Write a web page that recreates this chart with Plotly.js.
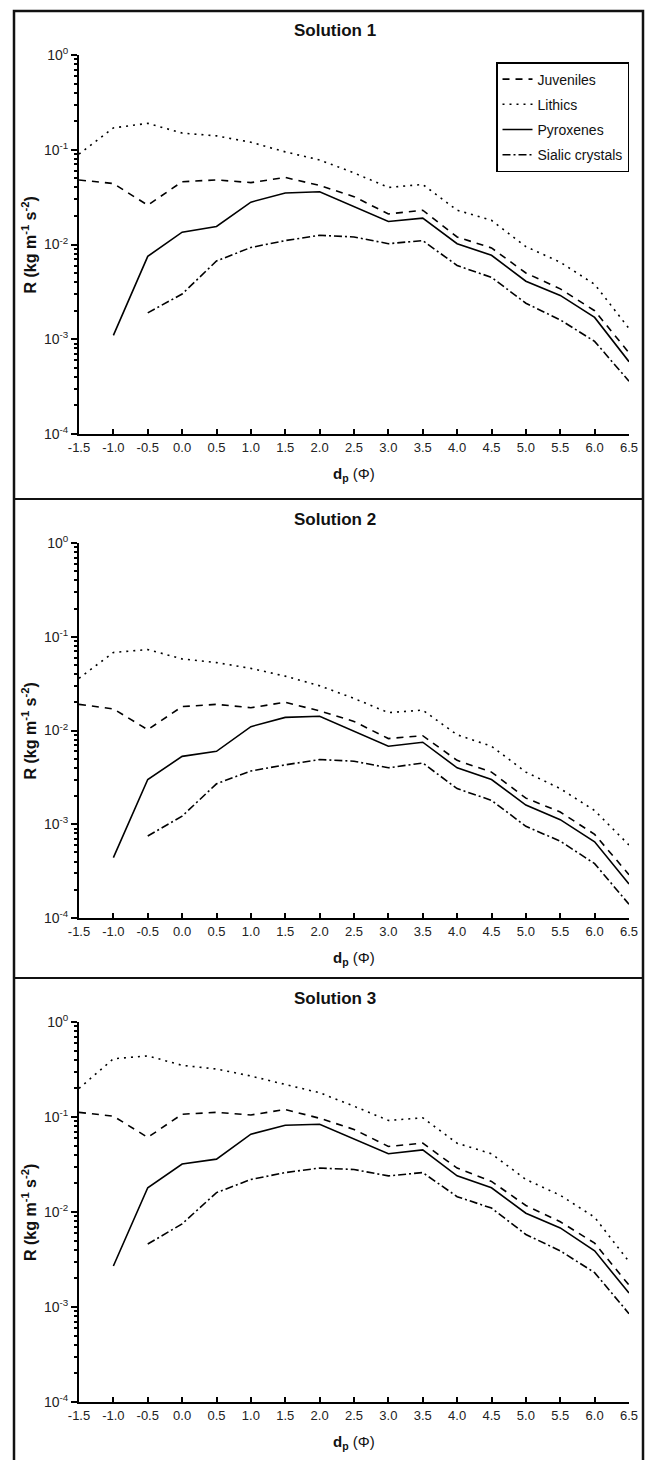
<!DOCTYPE html>
<html>
<head>
<meta charset="utf-8">
<script src="https://cdn.plot.ly/plotly-3.0.1.min.js"></script>
<style>html,body{margin:0;padding:0;background:#fff;}#chart{width:650px;height:1460px;}</style>
</head>
<body>
<div id="chart"></div>
<script>
// ---- data ----
const PHI = [-1.5,-1.0,-0.5,0.0,0.5,1.0,1.5,2.0,2.5,3.0,3.5,4.0,4.5,5.0,5.5,6.0,6.5];
const PHI_LABELS = ['-1.5','-1.0','-0.5','0.0','0.5','1.0','1.5','2.0','2.5','3.0','3.5','4.0','4.5','5.0','5.5','6.0','6.5'];
const SERIES = ['Juveniles','Lithics','Pyroxenes','Sialic crystals'];
const PANEL_TITLES = ['Solution 1','Solution 2','Solution 3'];
const Y_TICKVALS = [1e-4,1e-3,1e-2,1e-1,1];
const Y_TICKTEXT = ['10<sup>-4</sup>','10<sup>-3</sup>','10<sup>-2</sup>','10<sup>-1</sup>','10<sup>0</sup>'];

// Solution 1
const s1_juveniles = [0.048,0.044,0.026,0.046,0.048,0.045,0.051,0.042,0.032,0.021,0.023,0.012,0.0092,0.005,0.0034,0.002,0.00072];
const s1_lithics   = [0.09,0.17,0.19,0.15,0.14,0.12,0.095,0.078,0.057,0.04,0.043,0.023,0.018,0.0095,0.0065,0.0038,0.0013];
const s1_pyroxenes = [null,0.0011,0.0075,0.0135,0.0155,0.028,0.035,0.036,0.025,0.0175,0.019,0.0102,0.0077,0.0041,0.0029,0.0017,0.00058];
const s1_sialic    = [null,null,0.0019,0.003,0.0067,0.0093,0.011,0.0125,0.012,0.0102,0.011,0.006,0.0045,0.0024,0.0016,0.00095,0.00036];
// Solution 2
const s2_juveniles = [0.019,0.017,0.0102,0.018,0.019,0.0175,0.02,0.0162,0.0125,0.0082,0.0088,0.0048,0.0036,0.0019,0.00135,0.00078,0.00029];
const s2_lithics   = [0.036,0.068,0.073,0.058,0.053,0.046,0.038,0.03,0.022,0.0155,0.0165,0.009,0.0068,0.0036,0.0024,0.0014,0.0006];
const s2_pyroxenes = [null,0.00044,0.003,0.0053,0.006,0.011,0.0138,0.0142,0.0098,0.0068,0.0075,0.004,0.003,0.0016,0.00112,0.00065,0.00023];
const s2_sialic    = [null,null,0.00075,0.00122,0.0027,0.0037,0.0043,0.0049,0.0047,0.004,0.0045,0.0024,0.0018,0.00095,0.00066,0.00038,0.00014];
// Solution 3
const s3_juveniles = [0.112,0.102,0.061,0.107,0.112,0.105,0.12,0.097,0.074,0.049,0.053,0.029,0.021,0.0117,0.0079,0.0047,0.0017];
const s3_lithics   = [0.2,0.41,0.44,0.35,0.32,0.27,0.22,0.18,0.13,0.092,0.098,0.053,0.041,0.022,0.015,0.0088,0.003];
const s3_pyroxenes = [null,0.0027,0.018,0.032,0.036,0.066,0.082,0.084,0.059,0.041,0.045,0.024,0.018,0.0097,0.0068,0.0039,0.0014];
const s3_sialic    = [null,null,0.0046,0.0075,0.016,0.022,0.026,0.029,0.028,0.024,0.026,0.0145,0.011,0.0058,0.0039,0.0023,0.00085];

const PANELS = [
  [s1_juveniles,s1_lithics,s1_pyroxenes,s1_sialic],
  [s2_juveniles,s2_lithics,s2_pyroxenes,s2_sialic],
  [s3_juveniles,s3_lithics,s3_pyroxenes,s3_sialic]
];

// ---- styling / layout ----
const W = 650, H = 1460;
const FONT = 'Liberation Sans, Arial, Helvetica, sans-serif';
const DASHES = ['7px,6px','2px,5px','solid','8px,3px,2px,3px'];
const px = v => v / W;
const py = v => 1 - v / H;
// plot area pixel bounds per panel [top, bottom]
const AX_Y = [[55,434],[543,918],[1022,1402]];
const AX_X = [79,629];

const data = [];
PANELS.forEach((panel, p) => {
  panel.forEach((ys, s) => {
    data.push({
      type: 'scatter', mode: 'lines', x: PHI, y: ys,
      name: SERIES[s], legendgroup: SERIES[s], showlegend: p === 0,
      xaxis: p === 0 ? 'x' : 'x' + (p + 1),
      yaxis: p === 0 ? 'y' : 'y' + (p + 1),
      line: {color: '#000', width: 1.6, dash: DASHES[s]},
      hoverinfo: 'skip'
    });
  });
});

// minor tick positions for the log axis (2..9 in each decade)
const minorVals = [];
for (let e = -4; e < 0; e++) for (let m = 2; m <= 9; m++) minorVals.push(m * Math.pow(10, e));

const layout = {
  width: W, height: H,
  margin: {l: 0, r: 0, t: 0, b: 0},
  paper_bgcolor: '#fff', plot_bgcolor: '#fff',
  font: {family: FONT, color: '#222', size: 12},
  showlegend: true,
  legend: {
    x: px(496), y: py(62), xanchor: 'left', yanchor: 'top',
    bgcolor: '#fff', bordercolor: '#000', borderwidth: 1.5,
    font: {family: FONT, size: 14, color: '#111'},
    traceorder: 'grouped', tracegroupgap: 4, itemwidth: 30
  },
  annotations: [],
  shapes: [
    {type: 'rect', xref: 'paper', yref: 'paper', x0: px(14), x1: px(643), y0: py(1462), y1: py(11), line: {color: '#111', width: 2.5}},
    {type: 'line', xref: 'paper', yref: 'paper', x0: px(14), x1: px(643), y0: py(499), y1: py(499), line: {color: '#111', width: 2}},
    {type: 'line', xref: 'paper', yref: 'paper', x0: px(14), x1: px(643), y0: py(978), y1: py(978), line: {color: '#111', width: 2}}
  ]
};

for (let p = 0; p < 3; p++) {
  const xa = p === 0 ? 'xaxis' : 'xaxis' + (p + 1);
  const ya = p === 0 ? 'yaxis' : 'yaxis' + (p + 1);
  const xid = p === 0 ? 'x' : 'x' + (p + 1);
  const yid = p === 0 ? 'y' : 'y' + (p + 1);
  const [top, bot] = AX_Y[p];
  layout[xa] = {
    domain: [px(AX_X[0]), px(AX_X[1])], anchor: yid,
    range: [-1.5, 6.5], tickmode: 'array', tickvals: PHI, ticktext: PHI_LABELS,
    ticks: 'inside', ticklen: 5, tickwidth: 2, tickcolor: '#000',
    showline: true, linecolor: '#000', linewidth: 2,
    showgrid: false, zeroline: false,
    tickfont: {family: FONT, size: 13, color: '#222'}
  };
  layout[ya] = {
    domain: [py(bot), py(top)], anchor: xid,
    type: 'log', range: [-4, 0], tickmode: 'array',
    tickvals: Y_TICKVALS, ticktext: Y_TICKTEXT,
    ticks: 'outside', ticklen: 6, tickwidth: 2, tickcolor: '#000',
    showline: true, linecolor: '#000', linewidth: 2,
    showgrid: false, zeroline: false,
    tickfont: {family: FONT, size: 14, color: '#222'}
  };
  // overlay axis carrying the minor ticks
  layout['yaxis' + (p + 4)] = {
    overlaying: yid, anchor: xid, side: 'left',
    type: 'log', range: [-4, 0], tickmode: 'array',
    tickvals: minorVals, ticktext: minorVals.map(() => ''), showticklabels: false,
    ticks: 'outside', ticklen: 4, tickwidth: 2, tickcolor: '#000',
    showline: false, showgrid: false, zeroline: false
  };
  // panel title
  layout.annotations.push({
    xref: 'paper', yref: 'paper', x: px(335), y: py(top - 24),
    xanchor: 'center', yanchor: 'middle', showarrow: false,
    text: '<b>' + PANEL_TITLES[p] + '</b>', font: {family: FONT, size: 17, color: '#111'}
  });
  // x title
  layout.annotations.push({
    xref: 'paper', yref: 'paper', x: px(354), y: py(bot + 40),
    xanchor: 'center', yanchor: 'middle', showarrow: false,
    text: '<b>d<sub>p</sub></b> (Φ)', font: {family: FONT, size: 15, color: '#111'}
  });
  // y title
  layout.annotations.push({
    xref: 'paper', yref: 'paper', x: px(29), y: py((top + bot) / 2),
    xanchor: 'center', yanchor: 'middle', showarrow: false, textangle: -90,
    text: '<b>R (kg m<sup>-1</sup> s<sup>-2</sup>)</b>', font: {family: FONT, size: 16, color: '#111'}
  });
}

// invisible helper traces so the minor-tick overlay axes are drawn
for (let p = 0; p < 3; p++) {
  data.push({
    type: 'scatter', mode: 'markers', x: [0], y: [0.5],
    xaxis: p === 0 ? 'x' : 'x' + (p + 1), yaxis: 'y' + (p + 4),
    marker: {opacity: 0, size: 1}, showlegend: false, hoverinfo: 'skip'
  });
}

Plotly.newPlot('chart', data, layout, {displayModeBar: false});
</script>
</body>
</html>
